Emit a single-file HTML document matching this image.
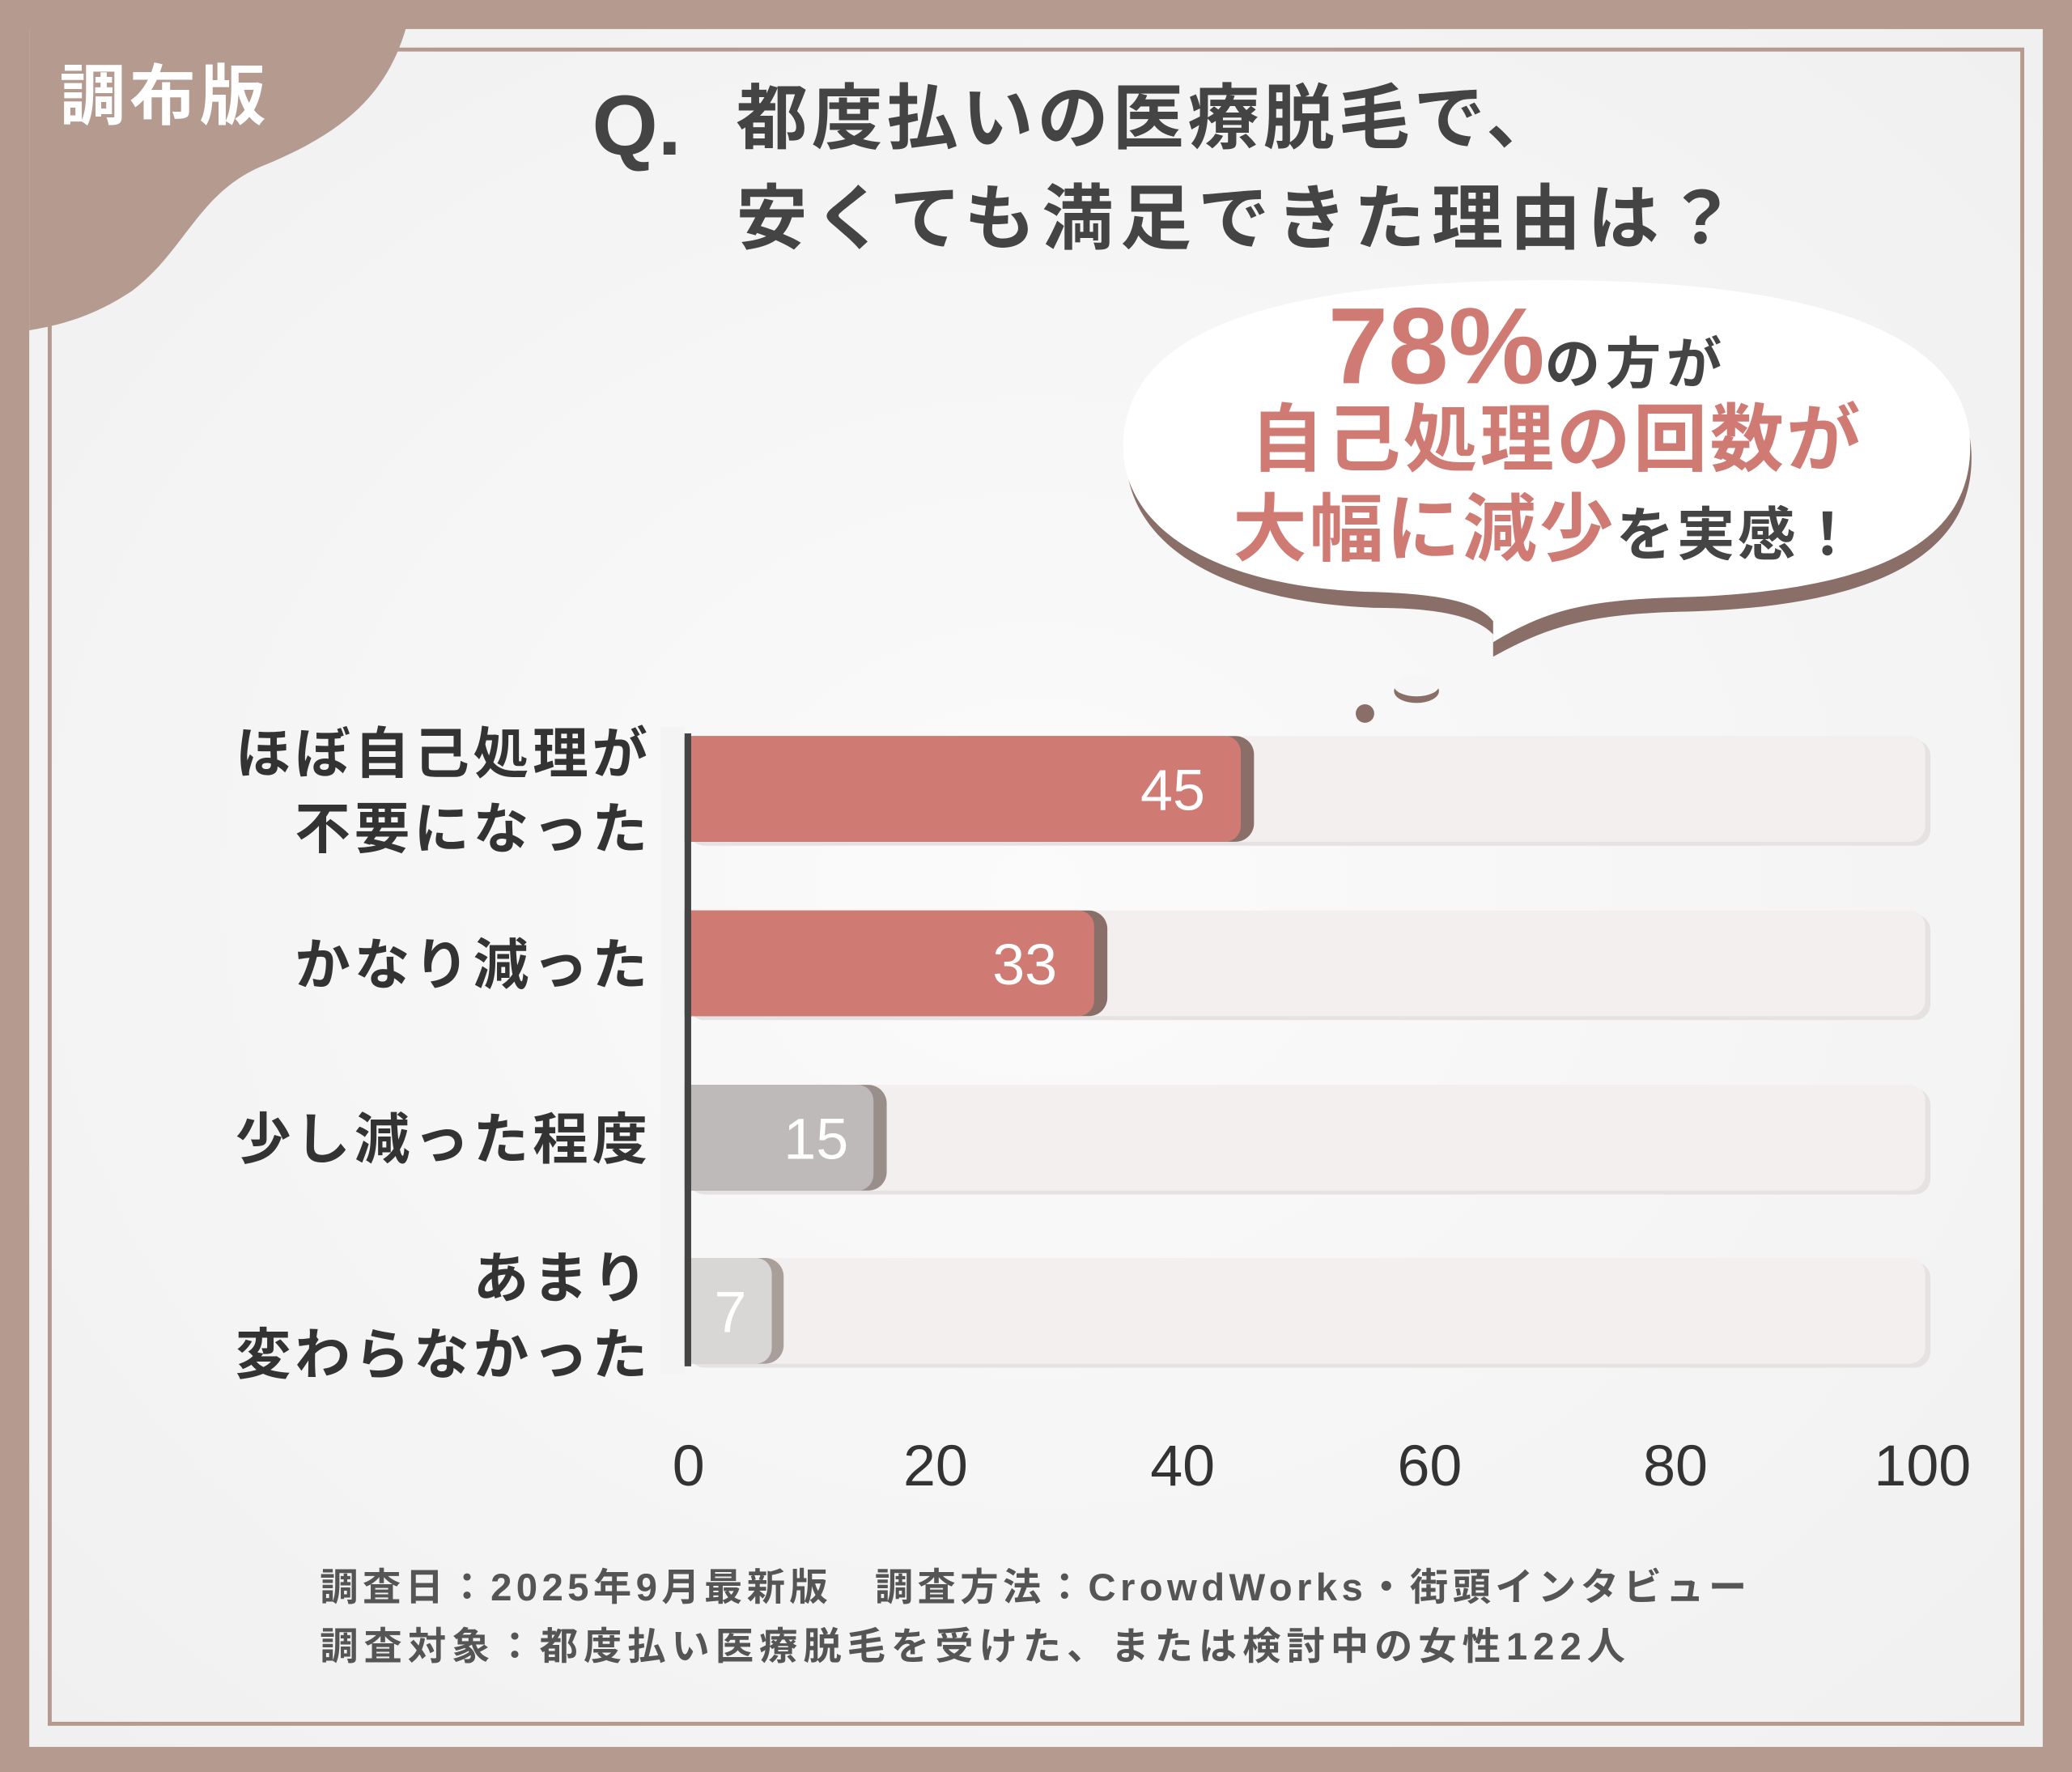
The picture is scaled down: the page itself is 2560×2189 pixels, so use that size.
<!DOCTYPE html>
<html><head><meta charset="utf-8"><style>
html,body{margin:0;padding:0;background:#b59a90;}
svg{display:block}
text{font-family:"Liberation Sans","Noto Sans CJK JP",sans-serif;}
</style></head><body>
<svg width="2560" height="2189" viewBox="0 0 1568 1341" xmlns="http://www.w3.org/2000/svg">
<defs>
<radialGradient id="bg" cx="0.5" cy="0.5" r="0.7">
<stop offset="0" stop-color="#fbfbfb"/><stop offset="1" stop-color="#f0f0f0"/>
</radialGradient>
</defs>
<rect width="1568" height="1341" fill="#b59a90"/>
<rect x="22" y="22" width="1524" height="1300" fill="url(#bg)"/>
<rect x="37.5" y="37.5" width="1493" height="1267" fill="none" stroke="#b59a90" stroke-width="3"/>
<path d="M0 0 H312 C300 70 260 100 200 125 C150 145 140 190 100 220 C70 240 45 246 22 250 V0 Z" fill="#b59a90"/>
<text x="45" y="90" font-size="50" font-weight="bold" fill="#fff" letter-spacing="3">調布版</text>
<text x="448" y="117" font-size="64" font-weight="bold" fill="#444">Q.</text>
<text x="557" y="108" font-size="54" font-weight="bold" fill="#444" letter-spacing="3">都度払いの医療脱毛で、</text>
<text x="557" y="184" font-size="54" font-weight="bold" fill="#444" letter-spacing="5">安くても満足できた理由は？</text>
<path d="M1130 480 C1120 470 1100 460 1040 460 C920 455 850 410 852 340 C855 260 950 220 1170 218 C1400 218 1495 270 1492 350 C1490 420 1420 460 1270 463 C1200 465 1170 475 1130 497 Z" fill="#8a6f68"/>
<path d="M1130 470 C1120 458 1100 450 1040 448 C920 445 848 400 850 335 C853 255 950 213 1170 212 C1400 212 1494 262 1491 342 C1489 410 1420 448 1270 452 C1200 454 1170 462 1130 486 Z" fill="#fff"/>
<ellipse cx="1072" cy="523" rx="17" ry="9" fill="#8a6f68"/>
<ellipse cx="1072" cy="519" rx="17" ry="8" fill="#f6f6f6"/>
<circle cx="1033" cy="540" r="7" fill="#8a6f68"/>
<text x="1005" y="290" font-size="82" font-weight="bold" fill="#d07a74">78%<tspan font-size="42" fill="#444" letter-spacing="4">の方が</tspan></text>
<text x="1178" y="352" font-size="56" font-weight="bold" fill="#d07a74" text-anchor="middle" letter-spacing="2">自己処理の回数が</text>
<text x="1170" y="420" font-size="56" font-weight="bold" fill="#d07a74" text-anchor="middle" letter-spacing="2">大幅に減少<tspan font-size="44" fill="#444">を実感！</tspan></text>
<g fill="#e6e2e1">
<rect x="521" y="560" width="940" height="80" rx="12"/>
<rect x="521" y="692" width="940" height="80" rx="12"/>
<rect x="521" y="824" width="940" height="80" rx="12"/>
<rect x="521" y="955" width="940" height="80" rx="12"/>
</g>
<g fill="#f2efee">
<rect x="521" y="557" width="936" height="80" rx="12"/>
<rect x="521" y="689" width="936" height="80" rx="12"/>
<rect x="521" y="821" width="936" height="80" rx="12"/>
<rect x="521" y="952" width="936" height="80" rx="12"/>
</g>
<rect x="510" y="557" width="439" height="80" rx="14" fill="#8a6f68"/>
<rect x="510" y="557" width="429" height="80" rx="12" fill="#d07a74"/>
<rect x="510" y="689" width="328" height="80" rx="14" fill="#8a6f68"/>
<rect x="510" y="689" width="318" height="80" rx="12" fill="#d07a74"/>
<rect x="510" y="821" width="161" height="80" rx="14" fill="#9a8e8a"/>
<rect x="510" y="821" width="151" height="80" rx="12" fill="#bdbab9"/>
<rect x="510" y="952" width="83" height="80" rx="14" fill="#a89e9a"/>
<rect x="510" y="952" width="74" height="80" rx="12" fill="#d9d7d6"/>
<rect x="500" y="550" width="18" height="490" fill="#f4f4f4"/>
<rect x="518" y="555" width="5" height="479" fill="#444"/>
<g font-size="44" fill="#fff" text-anchor="end">
<text x="912" y="613">45</text>
<text x="800" y="745">33</text>
<text x="642" y="877">15</text>
<text x="565" y="1008">7</text>
</g>
<g font-size="42" fill="#333" text-anchor="end" font-weight="bold" letter-spacing="3">
<text x="493" y="585">ほぼ自己処理が</text>
<text x="493" y="642">不要になった</text>
<text x="493" y="745">かなり減った</text>
<text x="493" y="877">少し減った程度</text>
<text x="493" y="982">あまり</text>
<text x="493" y="1040">変わらなかった</text>
</g>
<g font-size="44" fill="#333" text-anchor="middle">
<text x="521" y="1124">0</text>
<text x="708" y="1124">20</text>
<text x="895" y="1124">40</text>
<text x="1082" y="1124">60</text>
<text x="1268" y="1124">80</text>
<text x="1455" y="1124">100</text>
</g>
<g font-size="29" fill="#555" font-weight="bold">
<text x="242" y="1211" textLength="1080" lengthAdjust="spacing">調査日：2025年9月最新版　調査方法：CrowdWorks・街頭インタビュー</text>
<text x="242" y="1256" textLength="988" lengthAdjust="spacing">調査対象：都度払い医療脱毛を受けた、または検討中の女性122人</text>
</g>
</svg>
</body></html>
